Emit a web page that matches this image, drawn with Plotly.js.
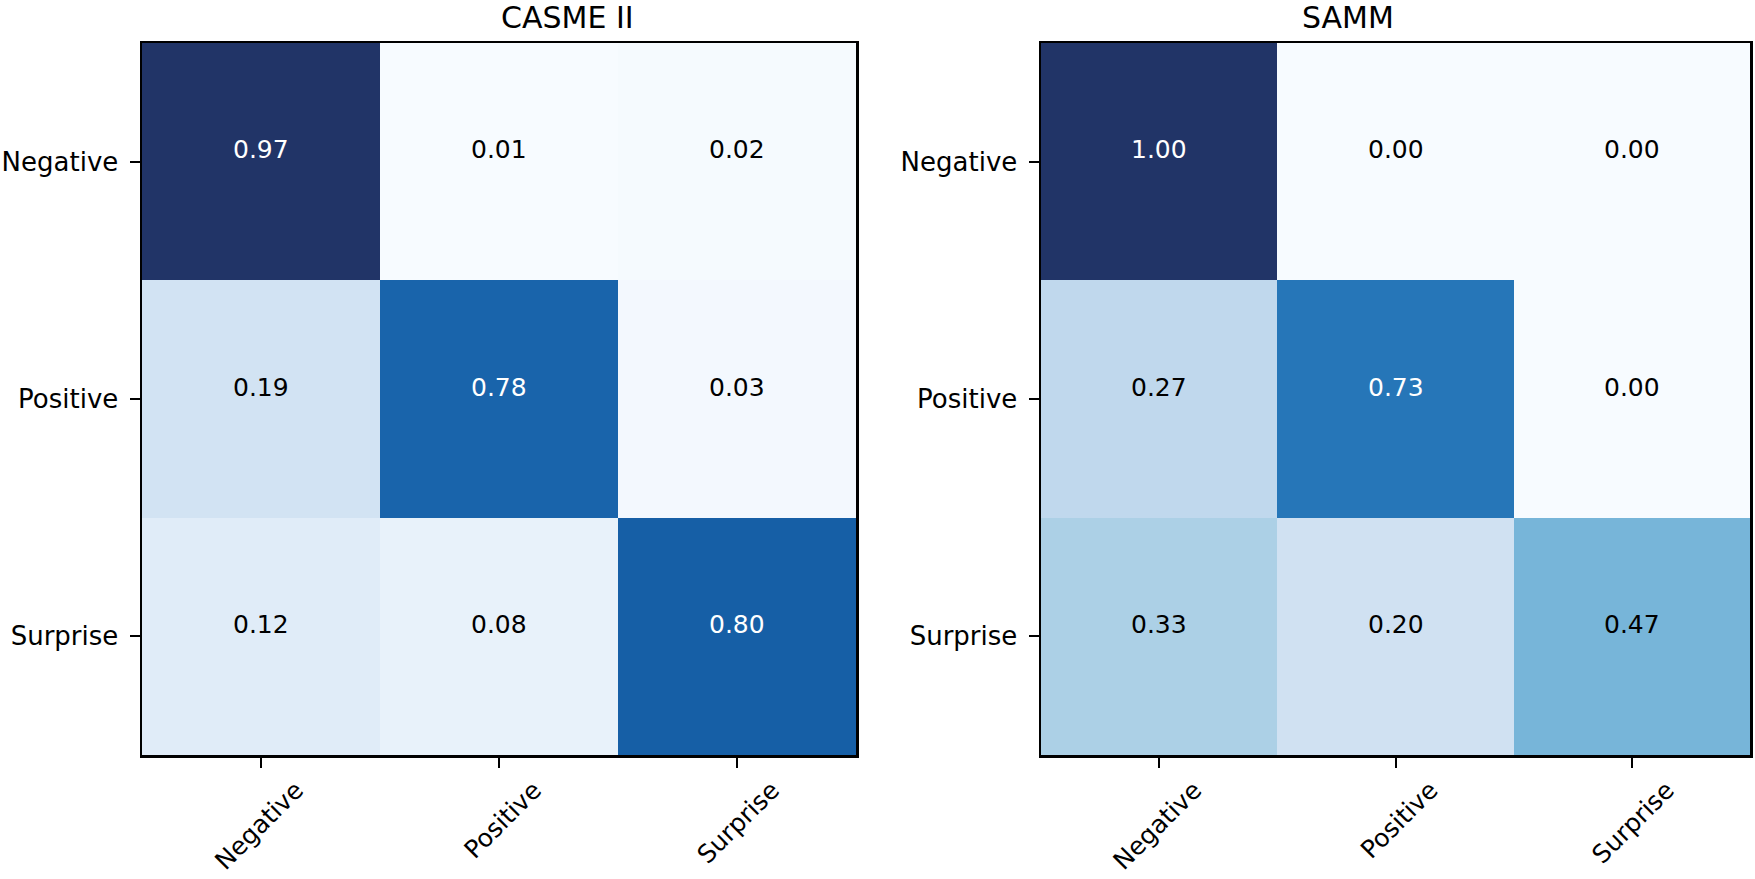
<!DOCTYPE html>
<html>
<head>
<meta charset="utf-8">
<script src="https://cdn.plot.ly/plotly-3.0.1.min.js"></script>
<style>html,body{margin:0;padding:0;background:#fff;}#chart{width:1755px;height:879px;}</style>
</head>
<body>
<div id="chart"></div>
<script>
const classes = ["Negative", "Positive", "Surprise"];
const titleCasme = "CASME II";
const titleSamm = "SAMM";
const casme = [
  [0.97, 0.01, 0.02],
  [0.19, 0.78, 0.03],
  [0.12, 0.08, 0.80]
];
const samm = [
  [1.00, 0.00, 0.00],
  [0.27, 0.73, 0.00],
  [0.33, 0.20, 0.47]
];

const blues = [
  [0.0, "#f7fbff"], [0.125, "#deebf7"], [0.25, "#c6dbef"], [0.375, "#9ecae1"],
  [0.5, "#6baed6"], [0.625, "#4292c6"], [0.75, "#2171b5"], [0.875, "#0f529c"],
  [1.0, "#213467"]
];
const FONT = "DejaVu Sans, sans-serif";

const X1 = [142/1755, 856/1755];
const X2 = [1041/1755, 1750/1755];
const YD = [1 - 755/879, 1 - 43/879];

function flat(m){ return m.reduce((a,r)=>a.concat(r),[]); }

function heat(z, xa, ya){
  const f = flat(z);
  return {
    type: "heatmap", z: z, x: classes, y: classes, xaxis: xa, yaxis: ya,
    colorscale: blues, zmin: Math.min(...f), zmax: Math.max(...f),
    showscale: false, hoverinfo: "skip"
  };
}

const annotations = [];
function addAnn(z, xa, ya){
  const f = flat(z);
  const thresh = Math.max(...f) / 2;
  for (let i = 0; i < z.length; i++) {
    for (let j = 0; j < z[i].length; j++) {
      annotations.push({
        x: classes[j], y: classes[i], xref: xa, yref: ya, yshift: 12,
        text: z[i][j].toFixed(2), showarrow: false,
        font: {family: FONT, size: 25, color: z[i][j] > thresh ? "#ffffff" : "#000000"}
      });
    }
  }
}
addAnn(casme, "x", "y");
addAnn(samm, "x2", "y2");

annotations.push({text: titleCasme, xref: "paper", yref: "paper", x: (X1[0]+X1[1])/2, y: 1 - 17/879,
  showarrow: false, font: {family: FONT, size: 30, color: "#000"}, yanchor: "middle"});
annotations.push({text: titleSamm, xref: "paper", yref: "paper", x: (X2[0]+X2[1])/2, y: 1 - 17/879,
  showarrow: false, font: {family: FONT, size: 30, color: "#000"}, yanchor: "middle"});

function xax(domain, anchor){
  return {domain: domain, anchor: anchor, type: "category", showline: true, mirror: true,
    linecolor: "#000", linewidth: 2.5, ticks: "outside", ticklen: 10, tickwidth: 2, tickcolor: "#000",
    tickangle: -45, ticklabelshift: 35, ticklabelstandoff: -2,
    tickfont: {family: FONT, size: 25, color: "#000"}, showgrid: false, zeroline: false};
}
function yax(anchor){
  return {domain: YD, anchor: anchor, type: "category", autorange: "reversed",
    showline: true, mirror: true, linecolor: "#000", linewidth: 2.5, ticks: "outside", ticklen: 10,
    tickwidth: 2, tickcolor: "#000", ticklabelstandoff: 6,
    tickfont: {family: FONT, size: 26, color: "#000"},
    showgrid: false, zeroline: false};
}

const layout = {
  width: 1755, height: 879, margin: {l: 0, r: 0, t: 0, b: 0},
  paper_bgcolor: "#fff", plot_bgcolor: "#fff", showlegend: false,
  xaxis: xax(X1, "y"),
  yaxis: yax("x"),
  xaxis2: xax(X2, "y2"),
  yaxis2: yax("x2"),
  annotations: annotations
};

Plotly.newPlot("chart", [heat(casme, "x", "y"), heat(samm, "x2", "y2")], layout, {staticPlot: true, displayModeBar: false});
</script>
</body>
</html>
